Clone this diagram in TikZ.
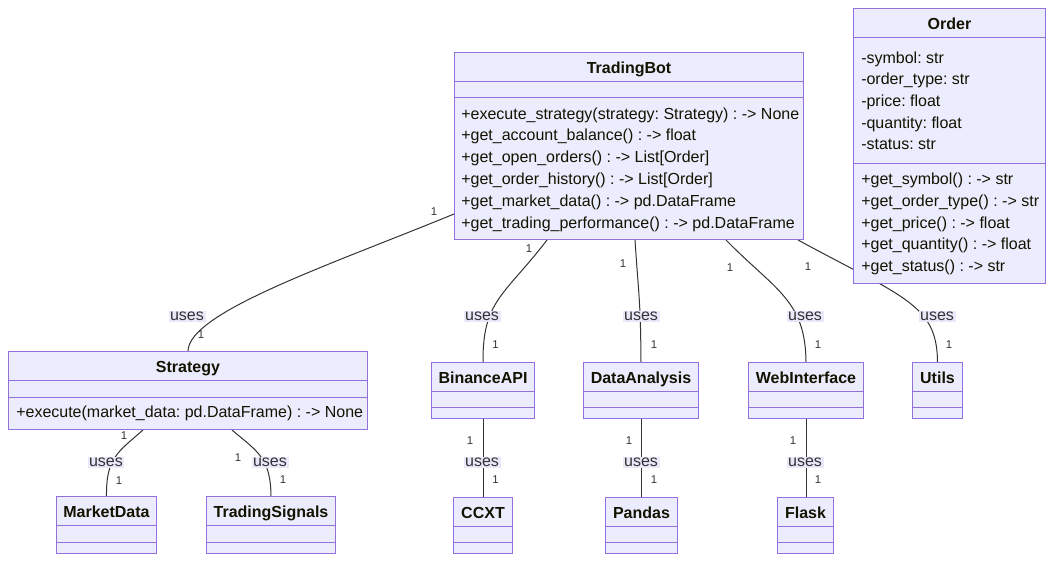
\documentclass[tikz,border=0pt]{standalone}
\usepackage{fontspec}
\setmainfont{Liberation Sans}
\usetikzlibrary{calc}
\definecolor{boxfill}{HTML}{ECECFF}
\definecolor{boxline}{HTML}{9370DB}
\definecolor{edgec}{HTML}{333333}
\definecolor{txt}{HTML}{131300}
\definecolor{lblfill}{HTML}{E8E8FA}
\newlength{\pxu}\setlength{\pxu}{0.75pt}
\pgfdeclarelayer{bg}
\pgfsetlayers{bg,main}
\frenchspacing
\tikzset{
  cls/.style={draw=boxline, fill=boxfill, line width=1\pxu, inner sep=0, anchor=north west},
  divl/.style={draw=boxline, line width=1\pxu},
  ctitle/.style={font=\bfseries\fontsize{12}{14}\selectfont, text=txt, anchor=base, inner sep=0},
  mem/.style={font=\fontsize{12}{14}\selectfont, text=txt, anchor=base west, inner sep=0},
  rel/.style={draw=edgec, line width=1\pxu},
  uses/.style={fill=lblfill, text=edgec, font=\fontsize{12}{14}\selectfont, inner sep=1.2pt},
  mult/.style={text=edgec, font=\fontsize{8.5}{10}\selectfont, inner sep=0},
}
\newcommand\clsbox[7]{%
  \node[cls, minimum width=#4\pxu, minimum height=#5\pxu] (#1) at (#2,#3) {};
  \node[ctitle] (#1-t) at ($(#1.north)+(0,21)$) {#7};
  \draw[divl] ($(#1.north west)+(0,29)$) -- ($(#1.north east)+(0,29)$);
  \draw[divl] ($(#1.north west)+(0,#6)$) -- ($(#1.north east)+(0,#6)$);
}
\begin{document}
\frenchspacing
\begin{tikzpicture}[x=0.75pt, y=-0.75pt]
\useasboundingbox (0,0) rectangle (1061,565);

% classes
\clsbox{tb}{454}{52}{349}{187}{45}{TradingBot}
\clsbox{ord}{853}{8}{192}{275}{155}{Order}
\clsbox{strat}{8}{351}{359}{78}{46}{Strategy}
\clsbox{bin}{431}{362}{103}{56}{45}{BinanceAPI}
\clsbox{da}{583}{362}{115}{56}{45}{DataAnalysis}
\clsbox{web}{748}{362}{115}{56}{45}{WebInterface}
\clsbox{utl}{912}{362}{50}{56}{45}{Utils}
\clsbox{md}{56}{496}{100}{57}{46}{MarketData}
\clsbox{ts}{206}{496}{129}{57}{46}{TradingSignals}
\clsbox{ccxt}{453}{497}{59}{56}{45}{CCXT}
\clsbox{pd}{605}{497}{72}{56}{45}{Pandas}
\clsbox{fl}{777}{497}{56}{56}{45}{Flask}

% members
\node[mem] (tb-m1) at (461,119) {+execute\_strategy(strategy: Strategy) : -> None};
\node[mem] (tb-m2) at (461,140.8) {+get\_account\_balance() : -> float};
\node[mem] (tb-m3) at (461,162.6) {+get\_open\_orders() : -> List[Order]};
\node[mem] (tb-m4) at (461,184.4) {+get\_order\_history() : -> List[Order]};
\node[mem] (tb-m5) at (461,206.2) {+get\_market\_data() : -> pd.DataFrame};
\node[mem] (tb-m6) at (461,228) {+get\_trading\_performance() : -> pd.DataFrame};

\node[mem] (ord-a1) at (861,63) {-symbol: str};
\node[mem] (ord-a2) at (861,84.7) {-order\_type: str};
\node[mem] (ord-a3) at (861,106.4) {-price: float};
\node[mem] (ord-a4) at (861,128.1) {-quantity: float};
\node[mem] (ord-a5) at (861,149.8) {-status: str};
\node[mem] (ord-m1) at (861,184.3) {+get\_symbol() : -> str};
\node[mem] (ord-m2) at (861,206.2) {+get\_order\_type() : -> str};
\node[mem] (ord-m3) at (861,228) {+get\_price() : -> float};
\node[mem] (ord-m4) at (861,249.9) {+get\_quantity() : -> float};
\node[mem] (ord-m5) at (861,271.7) {+get\_status() : -> str};

\node[mem] (strat-m1) at (16,417.5) {+execute(market\_data: pd.DataFrame) : -> None};

% relations
\begin{pgfonlayer}{bg}
\draw[rel] ($(tb.north west)+(0,162)$) .. controls (330,265) and (189,312) .. (strat.north);
\draw[rel] ($(tb.south west)+(93,0)$) .. controls (505,295) and (482.5,300) .. (bin.north);
\draw[rel] ($(tb.south west)+(181,0)$) .. controls (639,300) and (640.5,300) .. (da.north);
\draw[rel] ($(tb.south west)+(272,0)$) .. controls (775,290) and (805.5,300) .. (web.north);
\draw[rel] ($(tb.south west)+(344,0)$) .. controls (905,298) and (937,305) .. (utl.north);
\draw[rel] ($(strat.south west)+(135,0)$) .. controls (118,452) and (106,458) .. (md.north);
\draw[rel] ($(strat.south west)+(224,0)$) .. controls (258,452) and (270.5,458) .. (ts.north);
\draw[rel] (bin.south) -- (ccxt.north);
\draw[rel] (da.south) -- (da.south |- pd.north);
\draw[rel] (web.south) -- (web.south |- fl.north);
\end{pgfonlayer}

% edge labels
\node[uses] (u1) at (187,316.5) {uses};
\node[uses] (u2) at (482,316.5) {uses};
\node[uses] (u3) at (641,316.5) {uses};
\node[uses] (u4) at (805,316.5) {uses};
\node[uses] (u5) at (937,316.5) {uses};
\node[uses] (u6) at (106,462.5) {uses};
\node[uses] (u7) at (270,462.5) {uses};
\node[uses] (u8) at (482,462.5) {uses};
\node[uses] (u9) at (641,462.5) {uses};
\node[uses] (u10) at (805,462.5) {uses};

% multiplicities
\node[mult] (c1) at (434,212) {1};
\node[mult] (c2) at (201,335) {1};
\node[mult] (c3) at (529,249) {1};
\node[mult] (c4) at (495.5,345) {1};
\node[mult] (c5) at (623,263.5) {1};
\node[mult] (c6) at (654,345) {1};
\node[mult] (c7) at (730,268) {1};
\node[mult] (c8) at (818,345) {1};
\node[mult] (c9) at (808,267) {1};
\node[mult] (c10) at (949,345) {1};
\node[mult] (c11) at (124,435.5) {1};
\node[mult] (c12) at (119,481) {1};
\node[mult] (c13) at (238,458) {1};
\node[mult] (c14) at (283,480) {1};
\node[mult] (c15) at (470,441) {1};
\node[mult] (c16) at (495.5,480) {1};
\node[mult] (c17) at (629,441) {1};
\node[mult] (c18) at (654,480) {1};
\node[mult] (c19) at (793,441) {1};
\node[mult] (c20) at (818,480) {1};
\end{tikzpicture}
\end{document}
